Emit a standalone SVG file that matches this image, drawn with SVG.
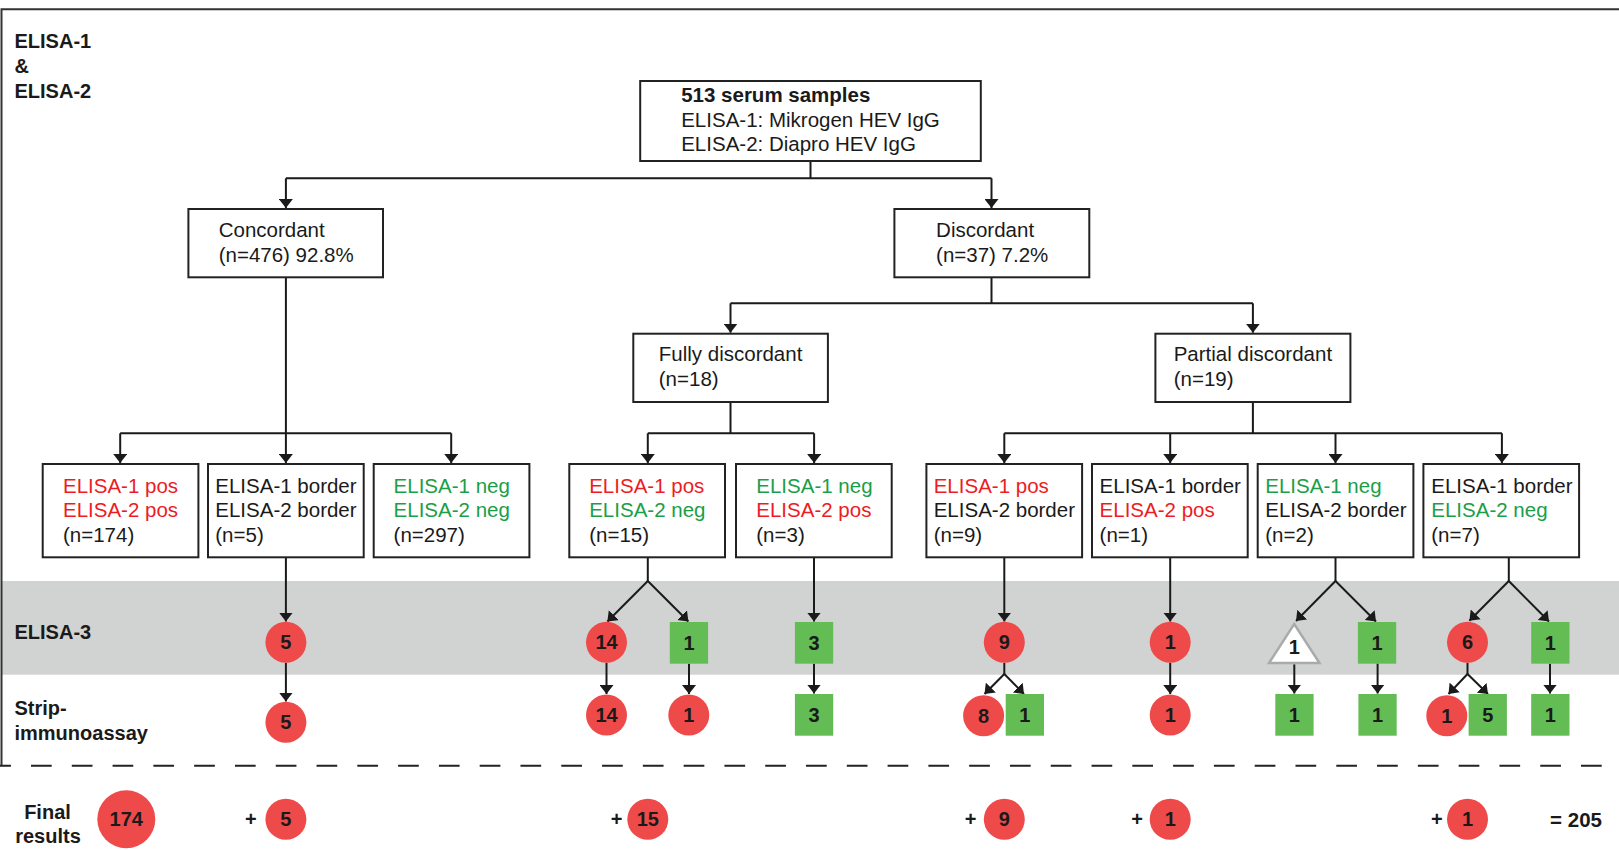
<svg xmlns="http://www.w3.org/2000/svg" width="1619" height="850" viewBox="0 0 1619 850">
<defs>
<style>
text{font-family:"Liberation Sans",Arial,sans-serif;fill:#1a1a1a}
.t{font-size:20.5px}
.b{font-weight:bold}
.lbl{font-size:20px;font-weight:bold}
.num{font-size:20px;font-weight:bold;text-anchor:middle}
.red{fill:#ed1c24}
.grn{fill:#1b9e48}
.box{fill:#fff;stroke:#222;stroke-width:2}
.rc{fill:#ef4a4a}
.gs{fill:#64bc55}
.ln{fill:none;stroke:#1a1a1a;stroke-width:2}
.ar{fill:none;stroke:#1a1a1a;stroke-width:2;marker-end:url(#ah)}
</style>
<marker id="ah" viewBox="0 0 9 14" refX="9" refY="7" markerWidth="9" markerHeight="14" markerUnits="userSpaceOnUse" orient="auto">
<path d="M0,0 L9,7 L0,14 z" fill="#1a1a1a"/>
</marker>
</defs>
<rect width="1619" height="850" fill="#fff"/>
<rect x="2" y="581" width="1617" height="93.7" fill="#d1d3d2"/>
<path d="M1.5,765.7 V9.3 H1619" fill="none" stroke="#333" stroke-width="2"/>
<line x1="0" y1="765.7" x2="1602" y2="765.7" stroke="#222" stroke-width="2" stroke-dasharray="20.7 20.09" stroke-dashoffset="9.79"/>

<g id="row-labels">
<text class="lbl" x="14.5" y="48.3">ELISA-1</text>
<text class="lbl" x="14.5" y="72.7">&amp;</text>
<text class="lbl" x="14.5" y="97.7">ELISA-2</text>
<text class="lbl" x="14.5" y="639.3">ELISA-3</text>
<text class="lbl" x="14.5" y="715">Strip-</text>
<text class="lbl" x="14.5" y="740">immunoassay</text>
<text class="lbl" x="47.5" y="819" text-anchor="middle">Final</text>
<text class="lbl" x="48" y="843.3" text-anchor="middle">results</text>
</g>

<g id="connectors">
<path class="ln" d="M810.5,161 V178.3 M285.9,178.3 H991.5"/>
<path class="ar" d="M285.9,178.3 V208"/>
<path class="ar" d="M991.5,178.3 V208"/>
<path class="ar" d="M285.9,277.3 V463"/>
<path class="ln" d="M120.2,433.3 H451.2"/>
<path class="ar" d="M120.2,433.3 V463"/>
<path class="ar" d="M451.2,433.3 V463"/>
<path class="ln" d="M991.5,277.3 V303.3 M730.5,303.3 H1252.9"/>
<path class="ar" d="M730.5,303.3 V332.7"/>
<path class="ar" d="M1252.9,303.3 V332.7"/>
<path class="ln" d="M730.5,402 V433.3 M647.8,433.3 H814.1"/>
<path class="ar" d="M647.8,433.3 V463"/>
<path class="ar" d="M814.1,433.3 V463"/>
<path class="ln" d="M1252.9,402 V433.3 M1004.3,433.3 H1501.9"/>
<path class="ar" d="M1004.3,433.3 V463"/>
<path class="ar" d="M1170.2,433.3 V463"/>
<path class="ar" d="M1335.5,433.3 V463"/>
<path class="ar" d="M1501.9,433.3 V463"/>
<!-- lower part -->
<path class="ar" d="M285.9,557.3 V621.5"/>
<path class="ar" d="M285.9,662.8 V701.5"/>
<path class="ln" d="M647.8,557.3 V581"/>
<path class="ar" d="M647.8,581 L607.4,621.5"/>
<path class="ar" d="M647.8,581 L688.4,621.5"/>
<path class="ar" d="M606.5,662.8 V694"/>
<path class="ar" d="M689,663.7 V694"/>
<path class="ar" d="M814,557.3 V621.5"/>
<path class="ar" d="M814,663.7 V693.5"/>
<path class="ar" d="M1004.3,557.3 V621.5"/>
<path class="ln" d="M1004.3,662.8 V674"/>
<path class="ar" d="M1004.3,674 L984.5,694"/>
<path class="ar" d="M1004.3,674 L1024,694"/>
<path class="ar" d="M1170.2,557.3 V621.5"/>
<path class="ar" d="M1170.2,662.8 V694"/>
<path class="ln" d="M1335.5,557.3 V581"/>
<path class="ar" d="M1335.5,581 L1296,621"/>
<path class="ar" d="M1335.5,581 L1376,621.5"/>
<path class="ar" d="M1294.3,664.3 V693.5"/>
<path class="ar" d="M1377.6,663.5 V693.5"/>
<path class="ln" d="M1508.8,557.3 V581"/>
<path class="ar" d="M1508.8,581 L1469.4,620.8"/>
<path class="ar" d="M1508.8,581 L1549,621.5"/>
<path class="ln" d="M1467.5,662.8 V674"/>
<path class="ar" d="M1467.5,674 L1448.5,694"/>
<path class="ar" d="M1467.5,674 L1488,694"/>
<path class="ar" d="M1550,663.7 V693.5"/>
</g>

<g id="n-root">
<rect class="box" x="640.2" y="81" width="340.6" height="80"/>
<text class="t b" x="681.2" y="101.7">513 serum samples</text>
<text class="t" x="681.2" y="126.7">ELISA-1: Mikrogen HEV IgG</text>
<text class="t" x="681.2" y="151">ELISA-2: Diapro HEV IgG</text>
</g>
<g id="n-concordant">
<rect class="box" x="188.4" y="209" width="194.6" height="68.3"/>
<text class="t" x="218.7" y="236.7">Concordant</text>
<text class="t" x="218.7" y="261.7">(n=476) 92.8%</text>
</g>
<g id="n-discordant">
<rect class="box" x="894.4" y="209" width="194.9" height="68.3"/>
<text class="t" x="936.1" y="236.7">Discordant</text>
<text class="t" x="936.1" y="261.7">(n=37) 7.2%</text>
</g>
<g id="n-fully">
<rect class="box" x="633.3" y="333.7" width="194.6" height="68.3"/>
<text class="t" x="658.8" y="361">Fully discordant</text>
<text class="t" x="658.8" y="386">(n=18)</text>
</g>
<g id="n-partial">
<rect class="box" x="1155.4" y="333.7" width="195" height="68.3"/>
<text class="t" x="1173.7" y="361">Partial discordant</text>
<text class="t" x="1173.7" y="386">(n=19)</text>
</g>

<g id="n-pospos">
<rect class="box" x="42.7" y="464" width="155.7" height="93.3"/>
<text class="t red" x="63" y="492.7">ELISA-1 pos</text>
<text class="t red" x="63" y="516.7">ELISA-2 pos</text>
<text class="t" x="63" y="541.7">(n=174)</text>
</g>
<g id="n-borderborder">
<rect class="box" x="208" y="464" width="155.7" height="93.3"/>
<text class="t" x="215.3" y="492.7">ELISA-1 border</text>
<text class="t" x="215.3" y="516.7">ELISA-2 border</text>
<text class="t" x="215.3" y="541.7">(n=5)</text>
</g>
<g id="n-negneg">
<rect class="box" x="373.7" y="464" width="155.7" height="93.3"/>
<text class="t grn" x="393.6" y="492.7">ELISA-1 neg</text>
<text class="t grn" x="393.6" y="516.7">ELISA-2 neg</text>
<text class="t" x="393.6" y="541.7">(n=297)</text>
</g>
<g id="n-posneg">
<rect class="box" x="569.3" y="464" width="155.7" height="93.3"/>
<text class="t red" x="589.2" y="492.7">ELISA-1 pos</text>
<text class="t grn" x="589.2" y="516.7">ELISA-2 neg</text>
<text class="t" x="589.2" y="541.7">(n=15)</text>
</g>
<g id="n-negpos">
<rect class="box" x="736" y="464" width="155.7" height="93.3"/>
<text class="t grn" x="756.3" y="492.7">ELISA-1 neg</text>
<text class="t red" x="756.3" y="516.7">ELISA-2 pos</text>
<text class="t" x="756.3" y="541.7">(n=3)</text>
</g>
<g id="n-posborder">
<rect class="box" x="926.4" y="464" width="155.7" height="93.3"/>
<text class="t red" x="933.7" y="492.7">ELISA-1 pos</text>
<text class="t" x="933.7" y="516.7">ELISA-2 border</text>
<text class="t" x="933.7" y="541.7">(n=9)</text>
</g>
<g id="n-borderpos">
<rect class="box" x="1092" y="464" width="155.7" height="93.3"/>
<text class="t" x="1099.6" y="492.7">ELISA-1 border</text>
<text class="t red" x="1099.6" y="516.7">ELISA-2 pos</text>
<text class="t" x="1099.6" y="541.7">(n=1)</text>
</g>
<g id="n-negborder">
<rect class="box" x="1257.7" y="464" width="155.7" height="93.3"/>
<text class="t grn" x="1265.3" y="492.7">ELISA-1 neg</text>
<text class="t" x="1265.3" y="516.7">ELISA-2 border</text>
<text class="t" x="1265.3" y="541.7">(n=2)</text>
</g>
<g id="n-borderneg">
<rect class="box" x="1423.4" y="464" width="155.7" height="93.3"/>
<text class="t" x="1431.3" y="492.7">ELISA-1 border</text>
<text class="t grn" x="1431.3" y="516.7">ELISA-2 neg</text>
<text class="t" x="1431.3" y="541.7">(n=7)</text>
</g>

<!-- ELISA-3 row -->
<g id="e3-5"><circle class="rc" cx="285.9" cy="642.3" r="20.5"/><text class="num" x="285.9" y="649.3">5</text></g>
<g id="e3-14"><circle class="rc" cx="606.5" cy="642.3" r="20.5"/><text class="num" x="606.5" y="649.3">14</text></g>
<g id="e3-1a"><rect class="gs" x="669.8" y="622" width="38.3" height="41.7"/><text class="num" x="689" y="649.8">1</text></g>
<g id="e3-3"><rect class="gs" x="794.9" y="622" width="38.3" height="41.7"/><text class="num" x="814" y="649.8">3</text></g>
<g id="e3-9"><circle class="rc" cx="1004.3" cy="642.3" r="20.5"/><text class="num" x="1004.3" y="649.3">9</text></g>
<g id="e3-1b"><circle class="rc" cx="1170.2" cy="642.3" r="20.5"/><text class="num" x="1170.2" y="649.3">1</text></g>
<g id="e3-1c"><polygon points="1294.2,624 1319.5,663 1269,663" fill="#fff" stroke="#aaa" stroke-width="2.5"/><text class="num" x="1294.3" y="654">1</text></g>
<g id="e3-1d"><rect class="gs" x="1357.9" y="622" width="38.3" height="41.7"/><text class="num" x="1377" y="649.8">1</text></g>
<g id="e3-6"><circle class="rc" cx="1467.5" cy="642.3" r="20.5"/><text class="num" x="1467.5" y="649.3">6</text></g>
<g id="e3-1e"><rect class="gs" x="1531.2" y="622" width="38.3" height="41.7"/><text class="num" x="1550.3" y="649.8">1</text></g>

<!-- Strip-immunoassay row -->
<g id="s-5"><circle class="rc" cx="285.9" cy="722.3" r="20.5"/><text class="num" x="285.9" y="729.3">5</text></g>
<g id="s-14"><circle class="rc" cx="606.5" cy="715" r="20.5"/><text class="num" x="606.5" y="722">14</text></g>
<g id="s-1a"><circle class="rc" cx="688.8" cy="715" r="20.5"/><text class="num" x="688.8" y="722">1</text></g>
<g id="s-3"><rect class="gs" x="794.9" y="694" width="38.3" height="41.7"/><text class="num" x="814" y="721.8">3</text></g>
<g id="s-8"><circle class="rc" cx="983.6" cy="715.7" r="20.5"/><text class="num" x="983.6" y="722.7">8</text></g>
<g id="s-1b"><rect class="gs" x="1005.7" y="694" width="38.3" height="41.7"/><text class="num" x="1024.9" y="721.8">1</text></g>
<g id="s-1c"><circle class="rc" cx="1170.2" cy="715" r="20.5"/><text class="num" x="1170.2" y="722">1</text></g>
<g id="s-1d"><rect class="gs" x="1275.3" y="694" width="38.3" height="41.7"/><text class="num" x="1294.4" y="721.8">1</text></g>
<g id="s-1e"><rect class="gs" x="1358.4" y="694" width="38.3" height="41.7"/><text class="num" x="1377.6" y="721.8">1</text></g>
<g id="s-1f"><circle class="rc" cx="1446.8" cy="715.7" r="20.5"/><text class="num" x="1446.8" y="722.7">1</text></g>
<g id="s-5b"><rect class="gs" x="1468.6" y="694" width="38.3" height="41.7"/><text class="num" x="1487.8" y="721.8">5</text></g>
<g id="s-1g"><rect class="gs" x="1531.2" y="694" width="38.3" height="41.7"/><text class="num" x="1550.3" y="721.8">1</text></g>

<!-- Final results row -->
<g id="f-174"><circle class="rc" cx="126.3" cy="819.2" r="29"/><text class="num" x="126.3" y="826.2">174</text></g>
<g id="f-5"><text class="num" x="250.9" y="825.5">+</text><circle class="rc" cx="285.9" cy="819.3" r="20.5"/><text class="num" x="285.9" y="826.3">5</text></g>
<g id="f-15"><text class="num" x="616.7" y="825.5">+</text><circle class="rc" cx="647.8" cy="819.3" r="20.5"/><text class="num" x="647.8" y="826.3">15</text></g>
<g id="f-9"><text class="num" x="970.5" y="825.5">+</text><circle class="rc" cx="1004.3" cy="819.3" r="20.5"/><text class="num" x="1004.3" y="826.3">9</text></g>
<g id="f-1a"><text class="num" x="1137.2" y="825.5">+</text><circle class="rc" cx="1170.2" cy="819.3" r="20.5"/><text class="num" x="1170.2" y="826.3">1</text></g>
<g id="f-1b"><text class="num" x="1436.8" y="825.5">+</text><circle class="rc" cx="1467.5" cy="819.3" r="20.5"/><text class="num" x="1467.5" y="826.3">1</text></g>
<g id="f-total"><text class="lbl" x="1550.1" y="826.7" style="font-size:20.5px">= 205</text></g>
</svg>
